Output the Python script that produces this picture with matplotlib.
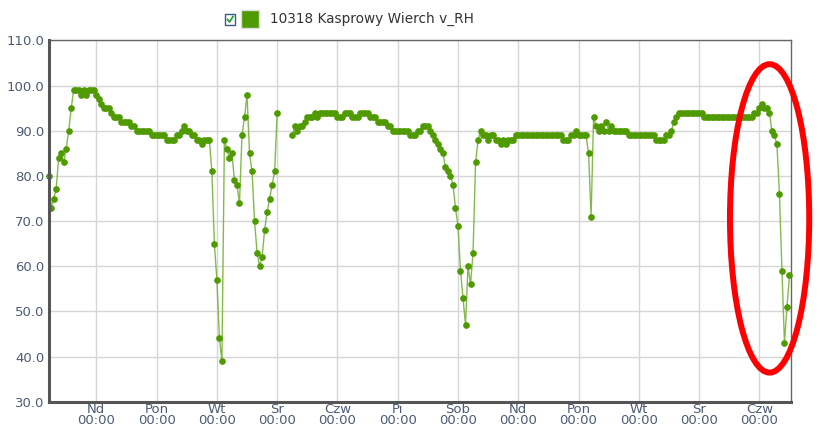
import numpy as np
import matplotlib
matplotlib.use("Agg")
import matplotlib.pyplot as plt
from matplotlib.patches import Ellipse, Rectangle
from matplotlib.lines import Line2D

# hourly relative humidity [%], series starts Saturday 05:00
rh_sob0 = [80, 73, 75, 77, 84, 85, 83, 86, 90, 95, 99, 99, 99, 98, 99, 98, 99, 99, 99]
rh_nd1 = [98, 97, 96, 95, 95, 95, 94, 93, 93, 93, 92, 92, 92, 92, 91, 91, 90, 90, 90, 90, 90, 90, 89, 89]
rh_pon1 = [89, 89, 89, 89, 88, 88, 88, 88, 89, 89, 90, 91, 90, 90, 89, 89, 88, 88, 87, 88, 88, 88, 81, 65]
rh_wt1 = [57, 44, 39, 88, 86, 84, 85, 79, 78, 74, 89, 93, 98, 85, 81, 70, 63, 60, 62, 68, 72, 75, 78, 81]
rh_sr1 = [94, np.nan, np.nan, np.nan, np.nan, np.nan, 89, 91, 90, 91, 91, 92, 93, 93, 93, 94, 93, 94,
          94, 94, 94, 94, 94, 94]
rh_czw1 = [93, 93, 93, 94, 94, 94, 93, 93, 93, 94, 94, 94, 94, 93, 93, 93, 92, 92, 92, 92, 91, 91, 90, 90]
rh_pi = [90, 90, 90, 90, 90, 89, 89, 89, 90, 90, 91, 91, 91, 90, 89, 88, 87, 86, 85, 82, 81, 80, 78, 73]
rh_sob = [69, 59, 53, 47, 60, 56, 63, 83, 88, 90, 89, 89, 88, 89, 89, 88, 88, 87, 88, 87, 88, 88, 88, 89]
rh_nd2 = [89, 89, 89, 89, 89, 89, 89, 89, 89, 89, 89, 89, 89, 89, 89, 89, 89, 89, 88, 88, 88, 89, 89, 90]
rh_pon2 = [89, 89, 89, 89, 85, 71, 93, 91, 90, 91, 90, 92, 90, 91, 90, 90, 90, 90, 90, 90, 89, 89, 89, 89]
rh_wt2 = [89, 89, 89, 89, 89, 89, 89, 88, 88, 88, 88, 89, 89, 90, 92, 93, 94, 94, 94, 94, 94, 94, 94, 94]
rh_sr2 = [94, 94, 93, 93, 93, 93, 93, 93, 93, 93, 93, 93, 93, 93, 93, 93, 93, 93, 93, 93, 93, 93, 94, 94]
rh_czw2 = [95, 96, 95, 95, 94, 90, 89, 87, 76, 59, 43, 51, 58]

day_names = ["Nd", "Pon", "Wt", "Śr", "Czw", "Pi", "Sob", "Nd", "Pon", "Wt", "Śr", "Czw"]
y_ticks = [30, 40, 50, 60, 70, 80, 90, 100, 110]
series_name = "10318 Kasprowy Wierch v_RH"

rh = np.array(rh_sob0 + rh_nd1 + rh_pon1 + rh_wt1 + rh_sr1 + rh_czw1 + rh_pi + rh_sob
              + rh_nd2 + rh_pon2 + rh_wt2 + rh_sr2 + rh_czw2, dtype=float)
# time in days, 0 = first Sunday 00:00
t = (np.arange(len(rh)) - len(rh_sob0)) / 24.0

green = "#4f9a00"
label_col = "#4d5b73"

fig = plt.figure(figsize=(8.27, 4.34), dpi=100)
ax = fig.add_axes([0.0589, 0.0744, 0.8972, 0.8323])

ax.plot(t, rh, color="#6fae2e", lw=1.0, alpha=0.85, zorder=3, clip_on=False)
ax.plot(t, rh, ls="none", marker="o", ms=3.8, color=green, mec=green, zorder=4, clip_on=False)

ax.set_xlim(-0.79, 11.52)
ax.set_ylim(30, 110)
ax.set_yticks(y_ticks)
ax.set_yticklabels([f"{v:.1f}" for v in y_ticks])
ax.set_xticks(np.arange(len(day_names)))
ax.set_xticklabels([f"{d}\n00:00" for d in day_names], linespacing=0.8)

ax.grid(True, color="#d6d6d6", lw=1.0)
ax.set_axisbelow(True)
ax.tick_params(length=0, labelsize=9.5, labelcolor=label_col)
ax.tick_params(axis="x", pad=1)
ax.tick_params(axis="y", pad=3)

for side in ["left", "bottom"]:
    ax.spines[side].set_color("#555555")
    ax.spines[side].set_linewidth(2.2)
    ax.spines[side].set_zorder(5)
for side in ["top", "right"]:
    ax.spines[side].set_color("#666666")
    ax.spines[side].set_linewidth(1.0)

# red annotation ring around the last drop
ax.add_patch(Ellipse((11.17, 70.6), 1.315, 68.3, fill=False, edgecolor="#ff0000",
                     lw=4.3, clip_on=False, zorder=6))

# legend in the header: checkbox, colour swatch, name
W, H = 827, 434
fig.patches.append(Rectangle((225 / W, 1 - 24.5 / H), 10 / W, 10 / H, transform=fig.transFigure,
                             facecolor="white", edgecolor="#3d5a80", lw=1.0))
fig.lines.append(Line2D([227.5 / W, 229.5 / W, 233 / W], [1 - 19.5 / H, 1 - 22 / H, 1 - 16.5 / H],
                        transform=fig.transFigure, color="#2fa02f", lw=1.3))
fig.patches.append(Rectangle((240.5 / W, 1 - 28 / H), 18 / W, 18 / H, transform=fig.transFigure,
                             facecolor=green, edgecolor="#dddddd", lw=1.0))
fig.text(270 / W, 1 - 19 / H, series_name, fontsize=9.8, color="#333333", va="center", ha="left")

fig.savefig("out.png", dpi=100)
